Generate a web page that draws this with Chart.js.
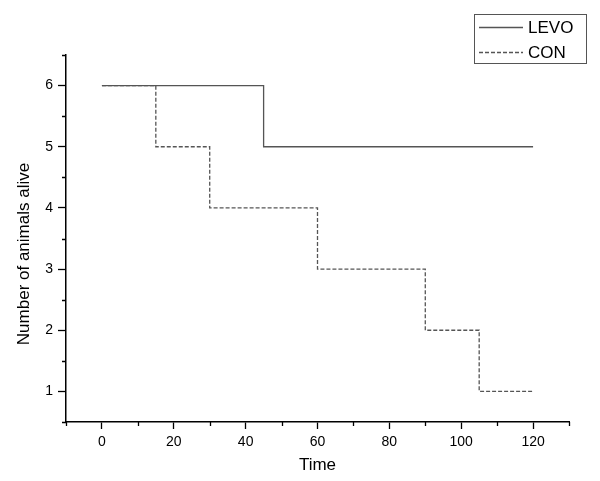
<!DOCTYPE html>
<html><head><meta charset="utf-8">
<script src="https://cdn.jsdelivr.net/npm/chart.js@4/dist/chart.umd.min.js"></script>
<style>html,body{margin:0;padding:0;background:#fff}#wrap{width:600px;height:481px}</style>
</head><body><div id="wrap"><canvas id="c" width="600" height="481"></canvas></div>
<script>
// ---- data ----
const timeLevo = [0, 45, 120];
const aliveLevo = [6, 5, 5];
const timeCon = [0, 15, 30, 60, 90, 105, 120];
const aliveCon = [6, 5, 4, 3, 2, 1, 1];
const xTickLabels = [0, 20, 40, 60, 80, 100, 120];
const yTickLabels = [1, 2, 3, 4, 5, 6];
const seriesNames = ['LEVO', 'CON'];
const xTitle = 'Time';
const yTitle = 'Number of animals alive';

const FONT = '"Liberation Sans", Arial, sans-serif';
Chart.defaults.font.family = FONT;
Chart.defaults.color = '#000';

const toPts = (xs, ys) => xs.map((x, i) => ({x: x, y: ys[i]}));

const minorTicks = {
  id: 'minorTicks',
  afterDraw(chart) {
    const ctx = chart.ctx, xs = chart.scales.x, ys = chart.scales.y;
    const ca = chart.chartArea;
    ctx.save();
    ctx.strokeStyle = '#000';
    ctx.lineWidth = 1.3;
    ctx.beginPath();
    for (let v = -10; v <= 130; v += 20) {
      const px = Math.round(xs.getPixelForValue(v)) + 0.5;
      ctx.moveTo(px, ca.bottom); ctx.lineTo(px, ca.bottom + 4);
    }
    for (let v = 0.5; v <= 6.5; v += 1) {
      const py = Math.round(ys.getPixelForValue(v)) + 0.5;
      ctx.moveTo(ca.left, py); ctx.lineTo(ca.left - 4, py);
    }
    ctx.stroke();
    // y-axis title, placed like the original (slightly below the axis centre)
    ctx.fillStyle = '#000';
    ctx.font = '17px ' + FONT;
    ctx.textAlign = 'center';
    ctx.textBaseline = 'middle';
    ctx.translate(24, 254);
    ctx.rotate(-Math.PI / 2);
    ctx.fillText(yTitle, 0, 0);
    ctx.restore();
  }
};

const boxLegend = {
  id: 'boxLegend',
  afterDraw(chart) {
    const ctx = chart.ctx;
    ctx.save();
    ctx.strokeStyle = '#555';
    ctx.lineWidth = 1;
    ctx.strokeRect(474.5, 14.5, 112, 49);
    const rows = [27, 52];
    chart.data.datasets.forEach((ds, i) => {
      ctx.strokeStyle = ds.borderColor;
      ctx.lineWidth = ds.borderWidth;
      ctx.setLineDash(ds.borderDash || []);
      ctx.beginPath();
      ctx.moveTo(479, rows[i] + 0.5); ctx.lineTo(523, rows[i] + 0.5);
      ctx.stroke();
      ctx.setLineDash([]);
      ctx.fillStyle = '#000';
      ctx.font = '17px ' + FONT;
      ctx.textBaseline = 'middle';
      ctx.textAlign = 'left';
      ctx.fillText(ds.label, 528, rows[i] + 1);
    });
    ctx.restore();
  }
};

new Chart(document.getElementById('c'), {
  type: 'scatter',
  data: {
    datasets: [
      {label: seriesNames[0], data: toPts(timeLevo, aliveLevo), showLine: true, stepped: 'before',
       borderColor: '#555', borderWidth: 1.3, pointRadius: 0, fill: false},
      {label: seriesNames[1], data: toPts(timeCon, aliveCon), showLine: true, stepped: 'before',
       borderColor: '#555', borderWidth: 1.3, borderDash: [4, 2], pointRadius: 0, fill: false}
    ]
  },
  options: {
    responsive: false,
    animation: false,
    layout: {padding: {top: 55, right: 31, left: 0, bottom: 0}},
    plugins: {legend: {display: false}, tooltip: {enabled: false}},
    scales: {
      x: {
        type: 'linear', min: -10, max: 130,
        afterFit(s) { s.height = 59; },
        ticks: {
          stepSize: 10, autoSkip: false, maxRotation: 0, padding: 5,
          font: {size: 14},
          callback: v => xTickLabels.includes(v) ? String(v) : ''
        },
        grid: {
          drawOnChartArea: false, tickLength: 7, tickWidth: 1.3,
          tickColor: c => (c.tick && xTickLabels.includes(c.tick.value)) ? '#000' : 'rgba(0,0,0,0)'
        },
        border: {color: '#000', width: 1.5},
        title: {display: true, text: xTitle, font: {size: 17}, padding: {top: 0, bottom: 5}}
      },
      y: {
        type: 'linear', min: 0.5, max: 6.5,
        afterFit(s) { s.width = 66; },
        ticks: {
          stepSize: 0.5, autoSkip: false, padding: 5,
          font: {size: 14},
          callback: v => yTickLabels.includes(v) ? String(v) : ''
        },
        grid: {
          drawOnChartArea: false, tickLength: 8, tickWidth: 1.3,
          tickColor: c => (c.tick && yTickLabels.includes(c.tick.value)) ? '#000' : 'rgba(0,0,0,0)'
        },
        border: {color: '#000', width: 1.5},
        title: {display: false}
      }
    }
  },
  plugins: [minorTicks, boxLegend]
});
</script>
</body></html>
